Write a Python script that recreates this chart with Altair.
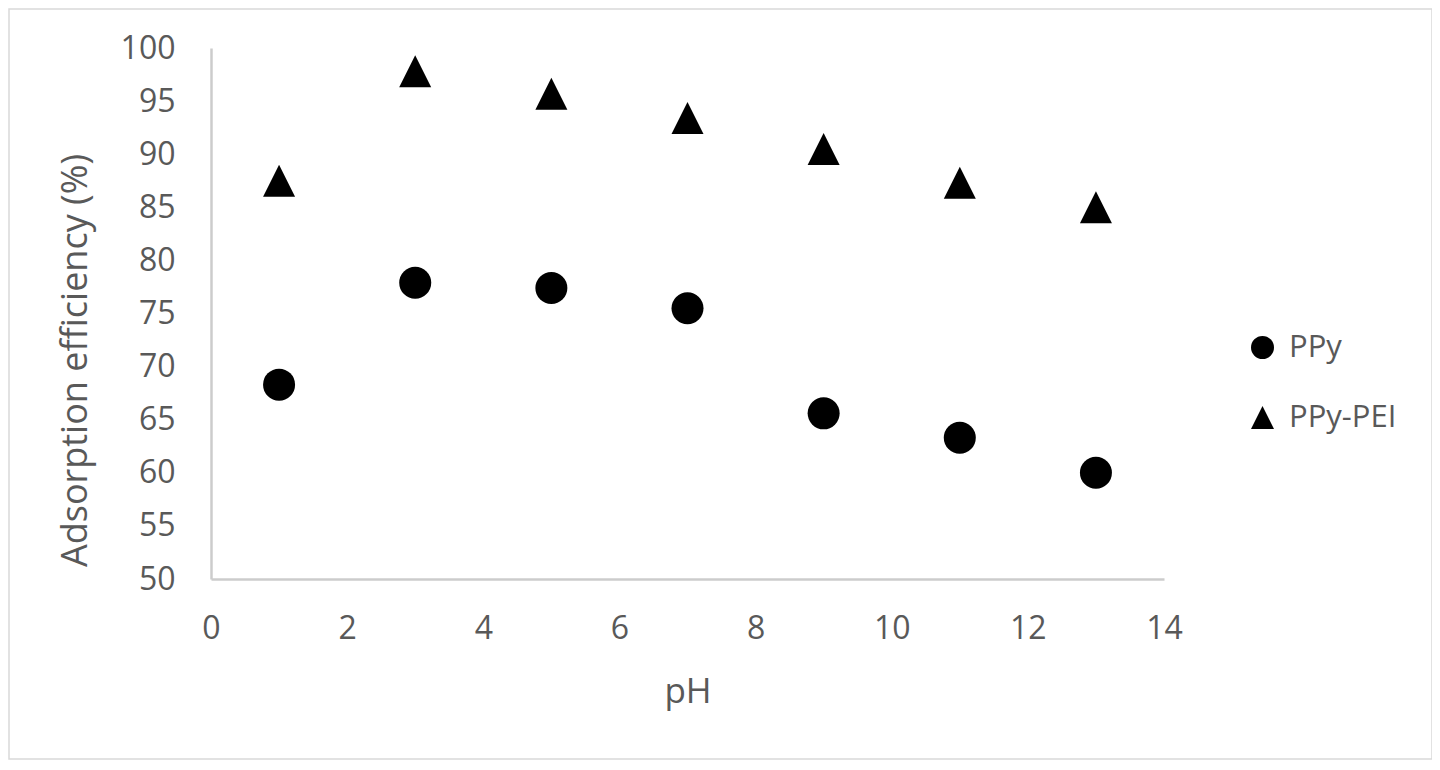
import altair as alt
import pandas as pd

# ---- data ----
ph = [1, 3, 5, 7, 9, 11, 13]
ppy = [68.3, 77.9, 77.4, 75.5, 65.6, 63.3, 60.0]
ppy_pei = [87.5, 97.8, 95.7, 93.4, 90.5, 87.3, 85.0]
series_names = ["PPy", "PPy-PEI"]
x_ticks = [0, 2, 4, 6, 8, 10, 12, 14]
y_ticks = [50, 55, 60, 65, 70, 75, 80, 85, 90, 95, 100]

rows = []
for x, a, b in zip(ph, ppy, ppy_pei):
    rows.append({"pH": x, "value": a, "series": series_names[0]})
    rows.append({"pH": x, "value": b, "series": series_names[1]})
df = pd.DataFrame(rows)

TRI = "M0,-1L1,1L-1,1Z"
FONT = "Open Sans"
TXT = "#595959"
AXC = "#cccccc"

points = alt.Chart(df).mark_point(
    filled=True, opacity=1, size=1024, strokeWidth=0, color="black"
).encode(
    x=alt.X(
        "pH:Q",
        scale=alt.Scale(domain=[0, 14], nice=False, zero=False),
        axis=alt.Axis(
            values=x_ticks, title="pH", grid=False, ticks=False, tickSize=0,
            domainColor=AXC, domainWidth=2.5, labelFlush=False,
            labelFont=FONT, labelFontSize=32, labelColor=TXT, labelPadding=34,
            titleFont=FONT, titleFontSize=35, titleColor=TXT, titleFontWeight="normal",
            titleBaseline="alphabetic", titleX=476.5, titleY=123, titleAlign="center",
        ),
    ),
    y=alt.Y(
        "value:Q",
        scale=alt.Scale(domain=[50, 100], nice=False, zero=False),
        axis=alt.Axis(
            values=y_ticks, title="Adsorption efficiency (%)", grid=False,
            ticks=False, tickSize=0, labelFlush=False,
            domainColor=AXC, domainWidth=2.5,
            labelFont=FONT, labelFontSize=32, labelColor=TXT, labelPadding=36,
            titleFont=FONT, titleFontSize=36, titleColor=TXT, titleFontWeight="normal",
            titleBaseline="alphabetic", titleAngle=270, titleX=-125, titleY=312,
            titleAlign="center",
        ),
    ),
    shape=alt.Shape(
        "series:N",
        scale=alt.Scale(domain=series_names, range=["circle", TRI]),
        legend=alt.Legend(
            title=None, orient="none", legendX=1036, legendY=284, padding=0,
            rowPadding=38, labelOffset=11, symbolSize=529,
            symbolFillColor="black", symbolStrokeWidth=0, symbolOpacity=1,
            labelFont=FONT, labelFontSize=31, labelColor=TXT,
        ),
    ),
)

border = alt.Chart(pd.DataFrame({"a": [0]})).mark_rect(
    fillOpacity=0, stroke="#d9d9d9", strokeWidth=1.5
).encode(
    x=alt.value(-202), x2=alt.value(1221), y=alt.value(-39), y2=alt.value(711)
)

chart = alt.layer(border, points).properties(
    width=953, height=531,
    autosize=alt.AutoSizeParams(type="none"),
    padding={"left": 203, "top": 40, "right": 268, "bottom": 181},
    background="white",
).configure_view(strokeWidth=0)

chart.save("out.html", embed_options={"renderer": "svg", "actions": False})
